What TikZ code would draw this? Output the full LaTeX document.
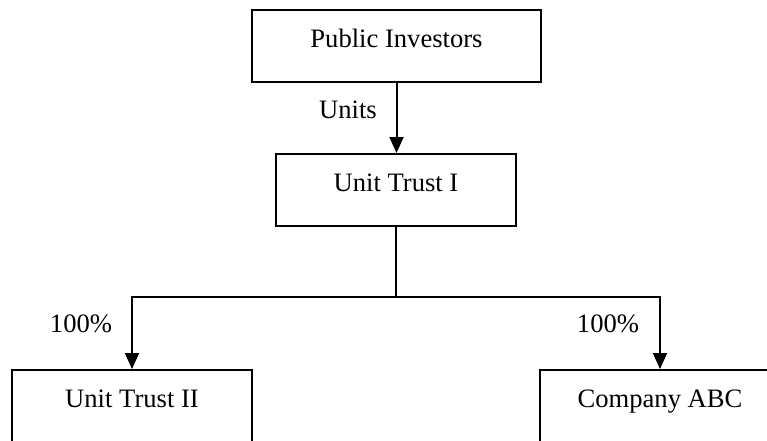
\documentclass[tikz,border=0pt]{standalone}
\usepackage{fontspec}
\setmainfont{Liberation Serif}
\usetikzlibrary{arrows.meta}

\tikzset{
	box/.style={draw, line width=1pt, minimum width=120pt, minimum height=36pt,
		inner sep=0pt, text height=9pt, text depth=8pt},
	arrow/.style={line width=1pt, -{Triangle[length=8pt,width=7pt]}},
	link/.style={line width=1pt}
}

\begin{document}
\begin{tikzpicture}[x=0.5pt, y=-0.5pt, font=\fontsize{13.3}{16}\selectfont]
	\useasboundingbox (0,0) rectangle (767,440);
	\clip (0,0) rectangle (767,440);

	% boxes
	\node[box, minimum width=144.5pt] (investors) at (396.5,46) {Public Investors};
	\node[box] (trust1) at (396,190) {Unit Trust I};
	\node[box] (trust2) at (132,406) {Unit Trust II};
	\node[box] (company) at (660,406) {Company ABC};

	% connectors
	\coordinate (split) at (396,297);
	\draw[arrow] (investors.south) -- (investors.south |- trust1.north);
	\draw[link] (trust1.south) -- (split);
	\draw[arrow] (split) -| (trust2.north);
	\draw[arrow] (split) -| (company.north);

	% labels
	\node (units) at (348,110) {Units};
	\node (share2) at (81,324) {100\%};
	\node (shareabc) at (608,324) {100\%};
\end{tikzpicture}
\end{document}
